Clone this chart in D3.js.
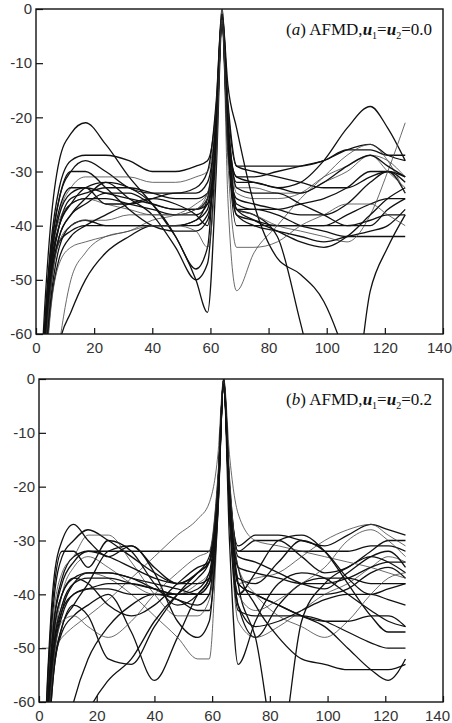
<!DOCTYPE html>
<html>
<head>
<meta charset="utf-8">
<script src="https://cdn.jsdelivr.net/npm/d3@7"></script>
<style>
  body { margin: 0; background: #fff; }
  svg { display: block; }
  .tick text { font-family: "Liberation Sans", Arial, sans-serif; font-size: 15px; fill: #333; }
  .title { font-family: "Liberation Serif", "Times New Roman", serif; font-size: 17px; fill: #111; }
</style>
</head>
<body>
<svg width="452" height="723"></svg>
<script>
// sample positions (frequency bin) shared by every curve
const xBins = [1, 3, 5, 8, 12, 17, 24, 32, 40, 48, 55, 59, 62, 64, 66, 69, 75, 83, 91, 99, 107, 115, 121, 127];
const xTicks = [0, 20, 40, 60, 80, 100, 120, 140];
const yTicks = [0, -10, -20, -30, -40, -50, -60];

// panel (a) u1=u2=0.0, dB
const curvesA = [
  [-75,-55,-40,-28,-23,-21,-25,-31,-36,-42,-48,-44,-20,-1,-22,-31,-31,-30,-29,-28,-26,-25,-27,-28],
  [-78,-58,-44,-33,-28,-27,-27,-28,-30,-30,-29,-28,-18,0,-18,-29,-29,-29,-29,-28,-26,-26,-27,-27],
  [-80,-60,-46,-35,-30,-28,-30,-33,-34,-34,-33,-30,-17,-1,-17,-29,-30,-31,-32,-33,-33,-31,-30,-31],
  [-82,-62,-48,-38,-33,-31,-31,-31,-32,-32,-31,-30,-19,0,-19,-33,-33,-34,-34,-32,-30,-27,-28,-31],
  [-84,-64,-50,-40,-35,-34,-33,-33,-34,-35,-35,-34,-22,-1,-22,-36,-37,-37,-36,-35,-33,-30,-30,-34],
  [-85,-65,-52,-42,-38,-36,-34,-34,-36,-37,-37,-36,-24,-2,-24,-38,-39,-40,-40,-40,-38,-36,-35,-35],
  [-86,-66,-54,-44,-40,-39,-40,-40,-40,-40,-40,-38,-25,-2,-25,-40,-40,-40,-40,-40,-40,-39,-38,-38],
  [-100,-90,-75,-62,-50,-45,-42,-41,-39,-38,-36,-34,-20,-1,-21,-34,-35,-35,-34,-31,-29,-27,-30,-33],
  [-110,-95,-80,-62,-56,-50,-45,-42,-40,-40,-39,-37,-22,-2,-24,-37,-37,-38,-40,-41,-42,-42,-42,-42],
  [-80,-62,-50,-42,-38,-35,-32,-33,-36,-42,-50,-56,-30,-3,-26,-35,-36,-37,-38,-38,-36,-32,-30,-32],
  [-82,-62,-48,-40,-36,-33,-32,-35,-38,-44,-50,-47,-25,-2,-25,-38,-40,-41,-42,-43,-42,-41,-40,-37],
  [-80,-60,-47,-39,-36,-35,-36,-37,-38,-38,-37,-34,-20,-1,-35,-52,-45,-40,-35,-31,-27,-25,-28,-34],
  [-84,-64,-51,-43,-41,-40,-40,-40,-40,-40,-39,-35,-20,-1,-14,-22,-36,-46,-49,-54,-65,-80,-90,-95],
  [-81,-61,-47,-38,-34,-33,-34,-35,-36,-37,-37,-35,-21,-1,-21,-37,-38,-42,-58,-75,-80,-52,-44,-38],
  [-83,-63,-49,-40,-36,-35,-35,-36,-37,-38,-38,-36,-22,-1,-22,-32,-32,-33,-32,-28,-22,-18,-22,-28],
  [-85,-65,-52,-43,-40,-39,-39,-38,-38,-38,-37,-35,-21,-1,-21,-37,-38,-40,-41,-42,-43,-38,-30,-21],
  [-82,-61,-47,-37,-33,-33,-36,-36,-35,-34,-34,-32,-20,-1,-20,-33,-34,-34,-36,-38,-40,-40,-37,-35],
  [-86,-68,-55,-46,-42,-40,-38,-36,-35,-36,-38,-40,-22,-2,-22,-37,-39,-41,-43,-44,-42,-38,-35,-33],
  [-79,-59,-45,-35,-30,-30,-33,-37,-40,-41,-41,-39,-24,-2,-24,-31,-32,-33,-34,-32,-29,-27,-29,-31],
  [-88,-70,-56,-47,-44,-43,-42,-41,-40,-40,-41,-44,-28,-2,-28,-44,-44,-43,-40,-38,-36,-36,-38,-40]
];

// panel (b) u1=u2=0.2, dB
const curvesB = [
  [-80,-55,-38,-30,-27,-30,-33,-31,-35,-38,-36,-33,-20,0,-20,-31,-29,-29,-30,-31,-29,-27,-28,-29],
  [-82,-58,-42,-33,-30,-28,-30,-33,-36,-38,-36,-34,-20,-1,-20,-32,-30,-30,-33,-36,-35,-32,-30,-30],
  [-84,-62,-46,-37,-33,-32,-32,-32,-32,-32,-32,-32,-19,0,-19,-32,-32,-32,-32,-32,-32,-31,-31,-32],
  [-86,-64,-50,-40,-35,-33,-35,-38,-40,-40,-38,-36,-22,-1,-22,-38,-37,-36,-33,-30,-28,-27,-29,-31],
  [-88,-66,-52,-43,-38,-36,-36,-37,-38,-39,-40,-40,-24,-1,-24,-40,-40,-40,-40,-40,-39,-36,-35,-37],
  [-90,-68,-54,-46,-42,-44,-52,-53,-46,-40,-36,-34,-20,0,-24,-42,-48,-42,-38,-37,-37,-38,-38,-38],
  [-92,-70,-55,-47,-44,-42,-40,-47,-56,-48,-40,-37,-22,-1,-22,-38,-40,-42,-44,-45,-45,-44,-44,-46],
  [-86,-64,-50,-42,-38,-36,-37,-40,-44,-48,-52,-52,-25,-1,-25,-45,-48,-46,-43,-40,-38,-35,-33,-34],
  [-84,-62,-48,-40,-37,-36,-36,-37,-39,-41,-42,-40,-22,-1,-30,-53,-45,-38,-36,-37,-40,-43,-45,-46],
  [-88,-66,-52,-44,-40,-39,-39,-40,-40,-40,-39,-36,-20,0,-22,-38,-48,-70,-45,-38,-35,-33,-34,-36],
  [-85,-64,-50,-42,-38,-37,-37,-38,-39,-40,-40,-38,-22,-1,-22,-38,-40,-42,-44,-46,-50,-54,-56,-52],
  [-50,-50,-50,-48,-46,-44,-41,-37,-33,-29,-26,-23,-14,0,-14,-25,-30,-31,-32,-33,-34,-35,-36,-37],
  [-130,-110,-95,-80,-70,-62,-56,-52,-45,-40,-37,-34,-20,-1,-24,-42,-46,-45,-43,-41,-40,-40,-41,-42],
  [-120,-100,-85,-70,-60,-52,-46,-42,-40,-41,-43,-43,-25,-1,-25,-43,-44,-44,-44,-45,-47,-49,-50,-50],
  [-80,-56,-40,-32,-32,-35,-30,-32,-38,-42,-40,-37,-22,-1,-22,-37,-38,-34,-30,-32,-37,-40,-39,-38],
  [-83,-60,-44,-36,-33,-29,-29,-34,-40,-44,-44,-41,-24,-1,-24,-40,-43,-41,-38,-35,-30,-28,-30,-33],
  [-87,-65,-51,-43,-40,-39,-38,-38,-39,-40,-40,-38,-23,-1,-23,-35,-42,-48,-52,-53,-54,-54,-54,-53],
  [-90,-70,-55,-46,-42,-38,-32,-31,-36,-45,-48,-45,-24,-1,-24,-40,-36,-30,-29,-32,-38,-44,-47,-47],
  [-85,-63,-48,-40,-37,-38,-42,-44,-42,-38,-35,-34,-20,0,-20,-33,-34,-36,-38,-39,-36,-33,-32,-35],
  [-87,-66,-53,-45,-44,-46,-48,-45,-40,-36,-33,-32,-18,0,-18,-35,-40,-44,-46,-48,-45,-40,-37,-36],
  [-82,-60,-46,-38,-34,-32,-33,-35,-37,-38,-38,-37,-21,0,-21,-35,-36,-37,-38,-38,-37,-35,-34,-34]
];

const svg = d3.select('svg');

function drawPanel(curves, box, label, uVal, id) {
  let x = d3.scaleLinear().domain([0, 140]).range([box.left, box.right]);
  let y = d3.scaleLinear().domain([-60, 0]).range([box.bottom, box.top]);
  let g = svg.append('g');

  g.append('clipPath').attr('id', 'clip' + id)
    .append('rect').attr('x', box.left).attr('y', box.top)
    .attr('width', box.right - box.left).attr('height', box.bottom - box.top);

  let line = d3.line()
    .x((d, i) => x(xBins[i]))
    .y(d => y(d))
    .curve(d3.curveMonotoneX);

  g.append('g').attr('clip-path', `url(#clip${id})`)
    .selectAll('path').data(curves).join('path')
    .attr('d', line)
    .attr('fill', 'none')
    .attr('stroke', (d, i) => i % 4 == 3 ? '#444' : '#111')
    .attr('stroke-width', (d, i) => i % 4 == 3 ? 0.8 : 1.3);

  // axes, ticks pointing inward, plain hyphen for the minus sign
  let xAxis = d3.axisBottom(x).tickValues(xTicks).tickSizeInner(-6).tickSizeOuter(0).tickPadding(8)
    .tickFormat(d => String(d));
  let yAxis = d3.axisLeft(y).tickValues(yTicks).tickSizeInner(-7).tickSizeOuter(0).tickPadding(4)
    .tickFormat(d => String(d));
  let gx = g.append('g').attr('transform', `translate(0,${box.bottom})`).call(xAxis)
    .call(a => a.select('.domain').remove());
  g.append('g').attr('transform', `translate(${box.left},0)`).call(yAxis)
    .call(a => a.select('.domain').remove());
  g.selectAll('.tick line').attr('stroke', '#111').attr('stroke-width', 1.2);
  // last label would run past the window edge
  gx.selectAll('.tick text').filter(d => d == 140).attr('dx', box.shiftLast);

  g.append('rect')
    .attr('x', box.left).attr('y', box.top)
    .attr('width', box.right - box.left).attr('height', box.bottom - box.top)
    .attr('fill', 'none').attr('stroke', '#111').attr('stroke-width', 1.4);

  let t = g.append('text').attr('class', 'title')
    .attr('x', box.right - 11).attr('y', box.top + 26).attr('text-anchor', 'end');
  t.append('tspan').text('(');
  t.append('tspan').attr('font-style', 'italic').text(label);
  t.append('tspan').text(') AFMD,');
  t.append('tspan').attr('font-style', 'italic').attr('font-weight', 'bold').text('u');
  t.append('tspan').attr('font-size', 10).attr('dy', 4).text('1');
  t.append('tspan').attr('dy', -4).text('=');
  t.append('tspan').attr('font-style', 'italic').attr('font-weight', 'bold').text('u');
  t.append('tspan').attr('font-size', 10).attr('dy', 4).text('2');
  t.append('tspan').attr('dy', -4).text('=' + uVal);
}

drawPanel(curvesA, {left: 36, right: 443, top: 9, bottom: 334, shiftLast: -4}, 'a', '0.0', 'a');
drawPanel(curvesB, {left: 39, right: 443, top: 379, bottom: 702, shiftLast: -6}, 'b', '0.2', 'b');
</script>
</body>
</html>
